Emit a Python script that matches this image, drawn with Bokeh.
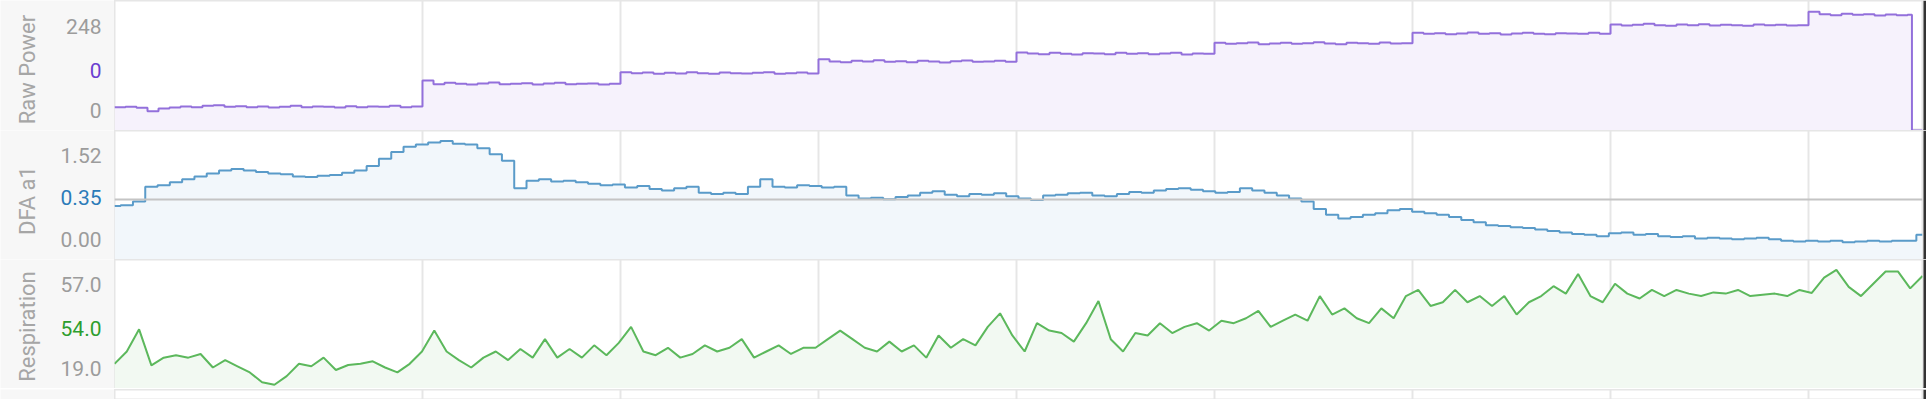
import numpy as np
from bokeh.plotting import figure
from bokeh.models import Range1d, FixedTicker, Span, Grid
from bokeh.core.properties import value
from bokeh.layouts import column, row
from bokeh.embed import file_html
from bokeh.resources import INLINE

# ---------------- data ----------------
T_END = 1643.6                      # seconds shown
STEP_TIMES = [280, 460, 640, 820, 1000, 1180, 1360, 1540]   # stage changes

# raw power (W), one sample every 10 s, then the stop
power_step0 = [70, 71, 68, 58, 66, 69, 72, 70, 74, 76, 71, 73, 70, 72, 69, 71, 74, 70, 72, 71,
               69, 73, 70, 72, 71, 74, 70, 72]
power_step1 = [150, 139, 143, 140, 138, 141, 144, 139, 140, 142, 138, 141, 143, 139, 140, 141, 138, 140]
power_step2 = [175, 172, 174, 170, 173, 171, 175, 172, 170, 174, 172, 171, 173, 175, 170, 172, 174, 171]
power_step3 = [214, 207, 205, 209, 207, 211, 206, 208, 205, 209, 207, 204, 208, 210, 206, 207, 209, 206]
power_step4 = [234, 231, 229, 233, 230, 228, 232, 231, 229, 233, 230, 232, 229, 231, 233, 228, 231, 230]
power_step5 = [263, 260, 262, 264, 259, 261, 263, 260, 262, 265, 261, 259, 263, 262, 260, 264, 261, 262]
power_step6 = [293, 290, 292, 289, 291, 294, 290, 292, 288, 291, 293, 290, 289, 292, 291, 290, 293, 290]
power_step7 = [318, 315, 317, 320, 316, 314, 318, 316, 319, 315, 317, 316, 314, 318, 316, 317, 315, 316]
power_step8 = [356, 349, 346, 350, 347, 349, 345, 348, 346, 347]
power_stop = [0, 0]
power_stop_t = [1634, T_END]

# DFA a1, sampled evenly across the session
dfa_a1 = [0.72, 0.73, 0.78, 0.98, 1.00, 1.04, 1.08, 1.12, 1.16, 1.20,
          1.22, 1.20, 1.18, 1.16, 1.15, 1.12, 1.11, 1.13, 1.14, 1.17,
          1.20, 1.26, 1.36, 1.45, 1.52, 1.55, 1.58, 1.60, 1.56, 1.55,
          1.50, 1.42, 1.33, 0.96, 1.06, 1.08, 1.05, 1.06, 1.04, 1.02,
          1.00, 1.01, 0.97, 0.99, 0.95, 0.93, 0.96, 0.98, 0.90, 0.88,
          0.90, 0.88, 0.98, 1.08, 0.98, 0.97, 1.00, 0.99, 0.97, 0.98,
          0.86, 0.82, 0.83, 0.81, 0.84, 0.86, 0.90, 0.92, 0.87, 0.85,
          0.88, 0.87, 0.89, 0.85, 0.82, 0.80, 0.86, 0.87, 0.89, 0.90,
          0.86, 0.85, 0.88, 0.91, 0.90, 0.93, 0.95, 0.96, 0.94, 0.92,
          0.90, 0.91, 0.96, 0.93, 0.90, 0.86, 0.82, 0.78, 0.68, 0.60,
          0.55, 0.57, 0.60, 0.62, 0.66, 0.68, 0.64, 0.62, 0.60, 0.57,
          0.53, 0.50, 0.46, 0.45, 0.43, 0.42, 0.40, 0.38, 0.36, 0.34,
          0.33, 0.31, 0.35, 0.36, 0.33, 0.34, 0.31, 0.30, 0.31, 0.28,
          0.29, 0.28, 0.27, 0.28, 0.29, 0.27, 0.25, 0.24, 0.25, 0.24,
          0.25, 0.23, 0.24, 0.25, 0.24, 0.25, 0.25, 0.33]

# respiration (breaths/min), sampled evenly across the session
respiration = [28.0, 32.0, 39.2, 27.5, 30.0, 30.8, 30.0, 31.2, 26.8, 29.2,
               27.2, 25.2, 22.0, 21.2, 24.0, 28.0, 27.2, 30.0, 26.0, 27.6,
               28.0, 28.8, 26.8, 25.2, 28.0, 32.0, 38.8, 32.0, 29.2, 26.8,
               30.0, 32.0, 29.2, 32.8, 30.0, 36.0, 30.0, 32.8, 30.0, 34.0,
               30.8, 34.8, 40.0, 32.0, 30.8, 33.2, 30.0, 31.2, 34.0, 32.0,
               33.2, 36.0, 30.0, 32.0, 34.0, 31.2, 33.2, 33.2, 36.0, 38.8,
               36.0, 33.2, 32.0, 35.2, 32.0, 34.0, 30.0, 37.2, 33.2, 36.0,
               34.0, 40.0, 44.4, 37.2, 32.0, 41.2, 38.8, 38.0, 35.2, 41.2,
               48.4, 36.0, 32.0, 38.0, 37.2, 41.2, 38.0, 40.0, 41.2, 38.8,
               42.0, 41.2, 42.8, 45.2, 40.0, 42.0, 44.0, 42.0, 50.0, 44.0,
               46.0, 42.8, 41.2, 46.0, 42.8, 50.0, 52.0, 46.8, 48.0, 52.0,
               48.0, 50.0, 46.8, 50.0, 44.0, 48.0, 50.0, 53.2, 50.8, 57.2,
               50.0, 48.0, 54.0, 50.8, 49.2, 52.0, 50.0, 52.0, 50.8, 50.0,
               51.2, 50.8, 52.0, 50.0, 50.4, 50.8, 50.0, 52.0, 51.0, 56.0,
               58.5, 53.0, 50.0, 54.0, 58.0, 58.0, 52.5, 56.5]

# left-hand texts of each panel: tick positions, texts and colours
power_tick_y = [313.5, 181.5, 60]
power_tick_text = ["248", "0", "0"]
dfa_tick_y = [1.408, 0.84, 0.272]
dfa_tick_text = ["1.52", "0.35", "0.00"]
dfa_threshold = 0.807
resp_tick_y = [53.6, 39.6, 26.5]
resp_tick_text = ["57.0", "54.0", "19.0"]

# ---------------- build ----------------
power = (power_step0 + power_step1 + power_step2 + power_step3 + power_step4 +
         power_step5 + power_step6 + power_step7 + power_step8)
power_t = list(np.arange(len(power)) * 10.0) + power_stop_t
power = power + power_stop
dfa_t = np.linspace(0, T_END, len(dfa_a1))
resp_t = np.linspace(0, T_END, len(respiration))

FONT = "Roboto"
GUTTER = "#f7f7f7"
GRID = "#e6e6e6"
TICK_GRAY = "#9c9c9c"
TITLE_GRAY = "#a6a6a6"
GUTTER_W = 114
MAIN_W = 1812
x_range = Range1d(0, T_END)


def main_panel(height, y_range):
    p = figure(width=MAIN_W, height=height, x_range=x_range, y_range=y_range,
               output_backend="svg", toolbar_location=None,
               x_axis_location=None, y_axis_location=None,
               min_border_left=0, min_border_right=4,
               min_border_top=0, min_border_bottom=0,
               border_fill_color="#333333", background_fill_color="white",
               outline_line_color=GRID, outline_line_width=2)
    p.grid.grid_line_color = None
    p.add_layout(Grid(dimension=0, ticker=FixedTicker(ticks=STEP_TIMES),
                      grid_line_color=GRID, grid_line_width=2))
    return p


def gutter(height, y_range, tick_y, tick_text, accent, title, title_y):
    g = figure(width=GUTTER_W, height=height, x_range=Range1d(0, GUTTER_W), y_range=y_range,
               output_backend="svg", toolbar_location=None,
               x_axis_location=None, y_axis_location=None,
               min_border_left=0, min_border_right=0, min_border_top=0, min_border_bottom=0,
               border_fill_color=GUTTER, background_fill_color=GUTTER,
               outline_line_color=None)
    g.grid.grid_line_color = None
    if tick_y:
        g.text(x=[101] * len(tick_y), y=tick_y, text=tick_text,
               text_color=[TICK_GRAY, accent, TICK_GRAY],
               text_align="right", text_baseline="middle",
               text_font=value(FONT), text_font_size="21px")
    if title:
        g.text(x=[27], y=[title_y], text=[title], angle=np.pi / 2,
               text_color=TITLE_GRAY, text_align="center", text_baseline="middle",
               text_font=value(FONT), text_font_size="22px")
    return g


yr1 = Range1d(0, 390)
p1 = main_panel(130, yr1)
p1.varea_step(x=power_t, y1=0, y2=power, step_mode="after", fill_color="#f6f2fc")
p1.step(x=power_t, y=power, mode="after", line_color="#9370db", line_width=2)
g1 = gutter(130, yr1, power_tick_y, power_tick_text, "#6b3fd0", "Raw Power", 183)

yr2 = Range1d(-0.005, 1.741)
p2 = main_panel(129, yr2)
p2.varea_step(x=dfa_t, y1=-0.005, y2=dfa_a1, step_mode="center", fill_color="#f2f7fb")
p2.add_layout(Span(location=dfa_threshold, dimension="width",
                   line_color="#c4c4c4", line_width=2))
p2.step(x=dfa_t, y=dfa_a1, mode="center", line_color="#5a9bc9", line_width=2)
g2 = gutter(129, yr2, dfa_tick_y, dfa_tick_text, "#2b7bb9", "DFA a1", 0.793)

yr3 = Range1d(19.98, 61.88)
p3 = main_panel(129, yr3)
p3.varea(x=resp_t, y1=19.98, y2=respiration, fill_color="#f2f9f2")
p3.line(x=resp_t, y=respiration, line_color="#5cb85c", line_width=2)
g3 = gutter(129, yr3, resp_tick_y, resp_tick_text, "#2e9e2e", "Respiration", 40.1)

yr4 = Range1d(0, 1)
p4 = main_panel(11, yr4)
g4 = gutter(11, yr4, [], [], None, None, None)

layout = column(row(g1, p1, spacing=0), row(g2, p2, spacing=0),
                row(g3, p3, spacing=0), row(g4, p4, spacing=0), spacing=0)
open("out.html", "w").write(file_html(layout, INLINE))
